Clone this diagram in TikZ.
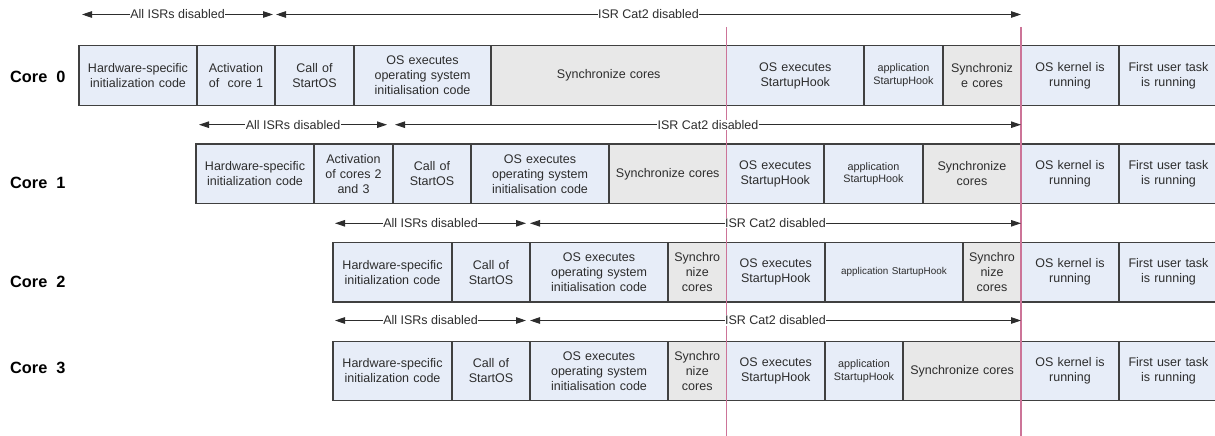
\documentclass[tikz,border=0pt]{standalone}
\usepackage{fontspec}
\setmainfont{Liberation Sans}
\usetikzlibrary{arrows.meta}
\definecolor{cellblue}{RGB}{231,237,248}
\definecolor{cellgrey}{RGB}{232,232,232}
\definecolor{bordergray}{RGB}{64,64,64}
\definecolor{textgray}{RGB}{45,45,45}
\definecolor{syncpink}{RGB}{204,116,152}
\newcommand\cellfont{\fontsize{12.5}{15}\selectfont}
\newcommand\smallcellfont{\fontsize{10.8}{12.7}\selectfont}
\newcommand\tinycellfont{\fontsize{9.9}{12}\selectfont}
\newcommand\corefont{\bfseries\fontsize{16.3}{18}\selectfont}
\newcommand\cellbox[7]{%
  \pgfmathsetmacro\cbw{#3-#2}%
  \pgfmathsetmacro\cbx{(#2+#3)/2}%
  \pgfmathsetmacro\cbt{#3-#2-5}%
  \node[cell,#5,minimum width=\cbw pt,text width=\cbt pt,font=#6] (#1) at (\cbx,#4) {#7};%
}
\tikzset{
  cell/.style={rectangle, draw=bordergray, line width=1.2pt, minimum height=59.5pt,
    inner sep=0pt, align=center, text=textgray},
  bluecell/.style={fill=cellblue},
  greycell/.style={fill=cellgrey},
  corelabel/.style={anchor=west, inner sep=0pt, font=\corefont, text=black},
  isr/.style={draw=textgray, line width=0.9pt, >={Triangle[length=10pt,width=6.5pt]}, <->},
  isrlbl/.style={midway, fill=white, inner sep=0.6pt, font=\cellfont, text=textgray},
  syncline/.style={draw=syncpink, line width=1.1pt}
}
\begin{document}
\begin{tikzpicture}[x=1pt,y=-1pt]
\useasboundingbox (0,0) rectangle (1215,436);
\clip (0,0) rectangle (1215,436);
% ---------- Core 0
\node[corelabel] (core0) at (10,77) {Core~~0};
\cellbox{c0a}{79}{197}{75.5}{bluecell}{\cellfont}{Hardware-specific\\initialization code}
\cellbox{c0b}{197}{275}{75.5}{bluecell}{\cellfont}{Activation\\of~ core 1}
\cellbox{c0c}{275}{354}{75.5}{bluecell}{\cellfont}{Call of\\StartOS}
\cellbox{c0d}{354}{491}{75.5}{bluecell}{\cellfont}{OS executes\\operating system\\initialisation code}
\cellbox{c0e}{491}{726.5}{75.5}{greycell}{\cellfont}{Synchronize cores}
\cellbox{c0f}{726.5}{864}{75.5}{bluecell}{\cellfont}{OS executes\\StartupHook}
\cellbox{c0g}{864}{943}{75.5}{bluecell}{\smallcellfont}{application\\StartupHook}
\cellbox{c0h}{943}{1021}{75.5}{greycell}{\cellfont}{Synchroniz\\e cores}
\cellbox{c0i}{1021}{1119}{75.5}{bluecell}{\cellfont}{OS kernel is\\running}
\cellbox{c0j}{1119}{1218}{75.5}{bluecell}{\cellfont}{First user task\\is running}
% ---------- Core 1
\node[corelabel] (core1) at (10,183) {Core~~1};
\cellbox{c1a}{196}{314}{173.8}{bluecell}{\cellfont}{Hardware-specific\\initialization code}
\cellbox{c1b}{314}{393}{173.8}{bluecell}{\cellfont}{Activation\\of cores 2\\and 3}
\cellbox{c1c}{393}{471}{173.8}{bluecell}{\cellfont}{Call of\\StartOS}
\cellbox{c1d}{471}{609}{173.8}{bluecell}{\cellfont}{OS executes\\operating system\\initialisation code}
\cellbox{c1e}{609}{726.5}{173.8}{greycell}{\cellfont}{Synchronize cores}
\cellbox{c1f}{726.5}{824}{173.8}{bluecell}{\cellfont}{OS executes\\StartupHook}
\cellbox{c1g}{824}{923}{173.8}{bluecell}{\smallcellfont}{application\\StartupHook}
\cellbox{c1h}{923}{1021}{173.8}{greycell}{\cellfont}{Synchronize\\cores}
\cellbox{c1i}{1021}{1119}{173.8}{bluecell}{\cellfont}{OS kernel is\\running}
\cellbox{c1j}{1119}{1218}{173.8}{bluecell}{\cellfont}{First user task\\is running}
% ---------- Core 2
\node[corelabel] (core2) at (10,282) {Core~~2};
\cellbox{c2a}{333}{452}{272.2}{bluecell}{\cellfont}{Hardware-specific\\initialization code}
\cellbox{c2b}{452}{530}{272.2}{bluecell}{\cellfont}{Call of\\StartOS}
\cellbox{c2c}{530}{668}{272.2}{bluecell}{\cellfont}{OS executes\\operating system\\initialisation code}
\cellbox{c2d}{668}{726.5}{272.2}{greycell}{\cellfont}{Synchro\\nize\\cores}
\cellbox{c2e}{726.5}{825}{272.2}{bluecell}{\cellfont}{OS executes\\StartupHook}
\cellbox{c2f}{825}{963}{272.2}{bluecell}{\tinycellfont}{application StartupHook}
\cellbox{c2g}{963}{1021}{272.2}{greycell}{\cellfont}{Synchro\\nize\\cores}
\cellbox{c2h}{1021}{1119}{272.2}{bluecell}{\cellfont}{OS kernel is\\running}
\cellbox{c2i}{1119}{1218}{272.2}{bluecell}{\cellfont}{First user task\\is running}
% ---------- Core 3
\node[corelabel] (core3) at (10,368) {Core~~3};
\cellbox{c3a}{333}{452}{371}{bluecell}{\cellfont}{Hardware-specific\\initialization code}
\cellbox{c3b}{452}{530}{371}{bluecell}{\cellfont}{Call of\\StartOS}
\cellbox{c3c}{530}{668}{371}{bluecell}{\cellfont}{OS executes\\operating system\\initialisation code}
\cellbox{c3d}{668}{726.5}{371}{greycell}{\cellfont}{Synchro\\nize\\cores}
\cellbox{c3e}{726.5}{825}{371}{bluecell}{\cellfont}{OS executes\\StartupHook}
\cellbox{c3f}{825}{903}{371}{bluecell}{\smallcellfont}{application\\StartupHook}
\cellbox{c3g}{903}{1021}{371}{greycell}{\cellfont}{Synchronize cores}
\cellbox{c3h}{1021}{1119}{371}{bluecell}{\cellfont}{OS kernel is\\running}
\cellbox{c3i}{1119}{1218}{371}{bluecell}{\cellfont}{First user task\\is running}
% ---------- synchronisation lines
\coordinate (p1t) at (726.5,27);
\coordinate (p1b) at (726.5,436);
\coordinate (p2t) at (1021,27);
\coordinate (p2b) at (1021,436);
\draw[syncline] (p1t) -- (p1b);
\draw[syncline] (p2t) -- (p2b);
% ---------- interrupt ranges
\coordinate (a0l) at (82,14.5);   \coordinate (a0r) at (273,14.5);
\coordinate (b0l) at (276,14.5);  \coordinate (b0r) at (1021,14.5);
\coordinate (a1l) at (199,124.7); \coordinate (a1r) at (387,124.7);
\coordinate (b1l) at (395,124.7); \coordinate (b1r) at (1021,124.7);
\coordinate (a2l) at (335,223.3); \coordinate (a2r) at (526,223.3);
\coordinate (b2l) at (530,223.3); \coordinate (b2r) at (1021,223.3);
\coordinate (a3l) at (335,320.5); \coordinate (a3r) at (526,320.5);
\coordinate (b3l) at (530,320.5); \coordinate (b3r) at (1021,320.5);
\draw[isr] (a0l) -- node[isrlbl]{All ISRs disabled} (a0r);
\draw[isr] (b0l) -- node[isrlbl]{ISR Cat2 disabled} (b0r);
\draw[isr] (a1l) -- node[isrlbl]{All ISRs disabled} (a1r);
\draw[isr] (b1l) -- node[isrlbl]{ISR Cat2 disabled} (b1r);
\draw[isr] (a2l) -- node[isrlbl]{All ISRs disabled} (a2r);
\draw[isr] (b2l) -- node[isrlbl]{ISR Cat2 disabled} (b2r);
\draw[isr] (a3l) -- node[isrlbl]{All ISRs disabled} (a3r);
\draw[isr] (b3l) -- node[isrlbl]{ISR Cat2 disabled} (b3r);
\end{tikzpicture}
\end{document}
